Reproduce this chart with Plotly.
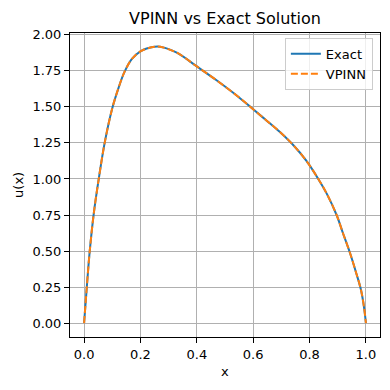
import plotly.graph_objects as go

# valores
x_vals = [0.0, 0.01, 0.02, 0.035, 0.052, 0.073, 0.1, 0.122, 0.143, 0.169,
          0.2, 0.25, 0.27, 0.329, 0.4, 0.47, 0.547, 0.6, 0.648, 0.695,
          0.742, 0.789, 0.831, 0.861, 0.896, 0.919, 0.943, 0.966, 0.982, 0.993, 1.0]
u_exact = [0.0, 0.26, 0.5, 0.77, 1.0, 1.25, 1.49, 1.63, 1.74, 1.83,
           1.885, 1.916, 1.916, 1.875, 1.78, 1.684, 1.57, 1.483, 1.404, 1.325,
           1.235, 1.125, 1.0, 0.898, 0.75, 0.622, 0.49, 0.345, 0.235, 0.115, 0.0]
u_vpinn = list(u_exact)

x_ticks = [0.0, 0.2, 0.4, 0.6, 0.8, 1.0]
y_ticks = [0.0, 0.25, 0.5, 0.75, 1.0, 1.25, 1.5, 1.75, 2.0]

fig = go.Figure()
fig.add_trace(go.Scatter(x=x_vals, y=u_exact, mode='lines', name='Exact',
                         line=dict(color='#1f77b4', width=2, shape='spline', smoothing=1.0)))
fig.add_trace(go.Scatter(x=x_vals, y=u_vpinn, mode='lines', name='VPINN',
                         line=dict(color='#ff7f0e', width=2, dash='7px,3px', shape='spline', smoothing=1.0)))

eje = dict(showline=True, linecolor='black', linewidth=1, mirror=True,
           ticks='outside', ticklen=5, tickcolor='black', automargin=False,
           showgrid=True, gridcolor='#b0b0b0', gridwidth=1, zeroline=False,
           tickfont=dict(size=13, color='black'))

fig.update_layout(
    width=390, height=390,
    margin=dict(l=70, r=10, t=33, b=53),
    paper_bgcolor='white', plot_bgcolor='white',
    font=dict(family='DejaVu Sans', color='black'),
    title=dict(text='VPINN vs Exact Solution', x=0.577, xanchor='center',
               y=0.954, yanchor='middle', font=dict(size=16)),
    xaxis=dict(eje, range=[-0.05, 1.05], tickvals=x_ticks, tickformat='.1f'),
    yaxis=dict(eje, range=[-0.0958, 2.0118], tickvals=y_ticks, tickformat='.2f'),
    legend=dict(x=0.977, y=0.984, xanchor='right', yanchor='top',
                bgcolor='rgba(255,255,255,0.8)', bordercolor='#cccccc', borderwidth=1,
                font=dict(size=13)),
    annotations=[
        dict(text='x', xref='paper', yref='paper', x=0.5, y=-0.115,
             xanchor='center', yanchor='middle', showarrow=False, font=dict(size=13)),
        dict(text='u(x)', xref='paper', yref='paper', x=-0.168, y=0.5, textangle=-90,
             xanchor='center', yanchor='middle', showarrow=False, font=dict(size=13)),
    ],
)

# sin barra de herramientas y sin el margen por defecto del body
fig.write_html("out.html", config={'displayModeBar': False},
               post_script="document.body.style.margin='0';")
